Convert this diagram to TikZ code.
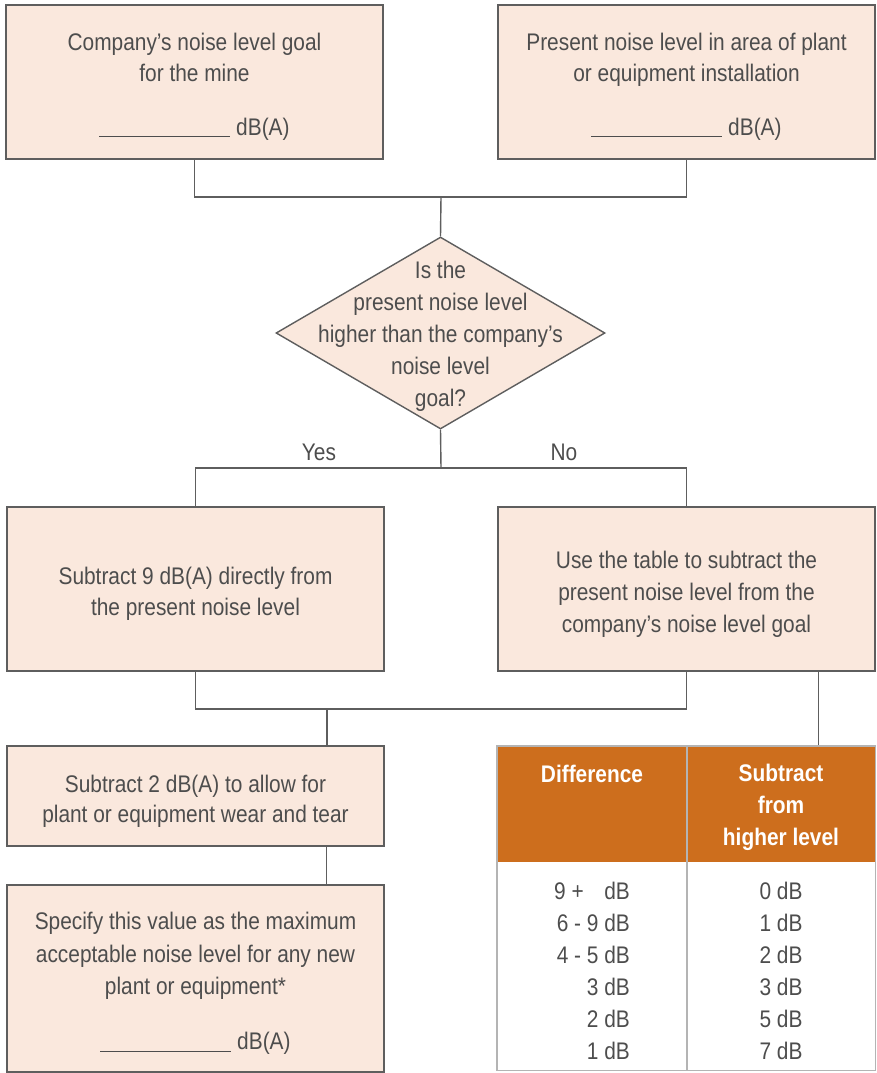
\documentclass[tikz,border=0pt]{standalone}
\usepackage{fontspec}
\setmainfont{Liberation Sans}[FakeStretch=0.87]
\usetikzlibrary{shapes.geometric}
\definecolor{peach}{HTML}{FAE8DD}
\definecolor{edge}{HTML}{5E5E5E}
\definecolor{txt}{HTML}{4D4D4D}
\definecolor{orangehdr}{HTML}{CD6E1D}
\definecolor{tabline}{HTML}{B4B4B4}
\newcommand{\blankline}{\rule[-2pt]{131pt}{0.9pt}\ dB(A)}
\begin{document}
\begin{tikzpicture}[x=1pt,y=-1pt,
  every node/.style={text=txt,font=\fontsize{24}{31.5}\selectfont},
  box/.style={draw=edge,line width=1.4pt,fill=peach,minimum width=377pt,inner sep=0pt},
  txtnode/.style={align=center,inner sep=0pt},
  conn/.style={draw=edge,line width=1.4pt},
  hdr/.style={text=white,font=\bfseries\fontsize{24}{31.5}\selectfont,align=center,inner sep=0pt}]
\useasboundingbox (0,0) rectangle (876,1073);
% boxes
\node[box,minimum height=154pt] (b1) at (194.5,82) {};
\node[txtnode] (t1) at ([yshift=-4.5pt]b1.center) {Company’s noise level goal\\for the mine\\[22pt]\blankline};
\node[box,minimum height=154pt] (b2) at (686.5,82) {};
\node[txtnode] (t2) at ([yshift=-4.5pt]b2.center) {Present noise level in area of plant\\or equipment installation\\[22pt]\blankline};
\node[draw=edge,line width=1.4pt,fill=peach,diamond,minimum width=329pt,minimum height=192pt,inner sep=0pt] (dia) at (440.5,333) {};
\node[txtnode,font=\fontsize{24}{32}\selectfont] (td) at ([yshift=-3pt]dia.center) {Is the\\present noise level\\higher than the company’s\\noise level\\goal?};
\node[box,minimum height=164pt] (b3) at (195.5,589) {};
\node[txtnode] (t3) at ([yshift=-5pt]b3.center) {Subtract 9 dB(A) directly from\\the present noise level};
\node[box,minimum height=164pt] (b4) at (686.5,589) {};
\node[txtnode,font=\fontsize{24}{32}\selectfont] (t4) at ([yshift=-5pt]b4.center) {Use the table to subtract the\\present noise level from the\\company’s noise level goal};
\node[box,minimum height=100pt] (b5) at (195.5,796) {};
\node[txtnode,font=\fontsize{24}{30}\selectfont] (t5) at ([yshift=-5pt]b5.center) {Subtract 2 dB(A) to allow for\\plant or equipment wear and tear};
\node[box,minimum height=187pt] (b6) at (195.5,978.5) {};
\node[txtnode,font=\fontsize{24}{32.5}\selectfont] (t6) at ([yshift=-5pt]b6.center) {Specify this value as the maximum\\acceptable noise level for any new\\plant or equipment*\\[22pt]\blankline};
% junctions
\coordinate (j1) at (441,197);
\coordinate (j2) at (441,468);
\coordinate (j3) at (327,709);
\draw[conn] (b1.south) |- (j1) -| (b2.south);
\draw[conn] (j1) -- (dia.north);
\draw[conn] (dia.south) -- (j2);
\draw[conn] (b3.north) |- (j2) -| (b4.north);
\node (yes) at (319,452) {Yes};
\node (no) at (564,452) {No};
\draw[conn] (b3.south) |- (j3) -| (b4.south);
% table
\node[minimum width=378pt,minimum height=324pt,inner sep=0pt] (tab) at (686,908) {};
\draw[conn] ([xshift=-57pt]b4.south east) -- ([xshift=-57pt]b4.south east |- tab.north);
\draw[conn] (j3) -- (j3 |- b5.north);
\draw[conn] ([xshift=-58pt]b5.south east) -- ([xshift=-58pt]b5.south east |- b6.north);
\coordinate (hb) at (497,862);
\fill[orangehdr] (tab.north west) rectangle (tab.east |- hb);
\draw[tabline,line width=1.4pt] (tab.north west) rectangle (tab.south east);
\draw[tabline,line width=1.4pt] (687,746) coordinate (cd1) -- (687,1070) coordinate (cd2);
\node[hdr] (h1) at (592,774) {Difference};
\node[hdr,font=\bfseries\fontsize{24}{32}\selectfont] (h2) at (781,807) {Subtract\\from\\higher level};
\node[align=right,inner sep=0pt,font=\fontsize{24}{32}\selectfont] (c1) at (592,971) {9 +\hspace{0.86em}dB\\6 - 9 dB\\4 - 5 dB\\3 dB\\2 dB\\1 dB};
\node[align=center,inner sep=0pt,font=\fontsize{24}{32}\selectfont] (c2) at (781,971) {0 dB\\1 dB\\2 dB\\3 dB\\5 dB\\7 dB};
\end{tikzpicture}
\end{document}
